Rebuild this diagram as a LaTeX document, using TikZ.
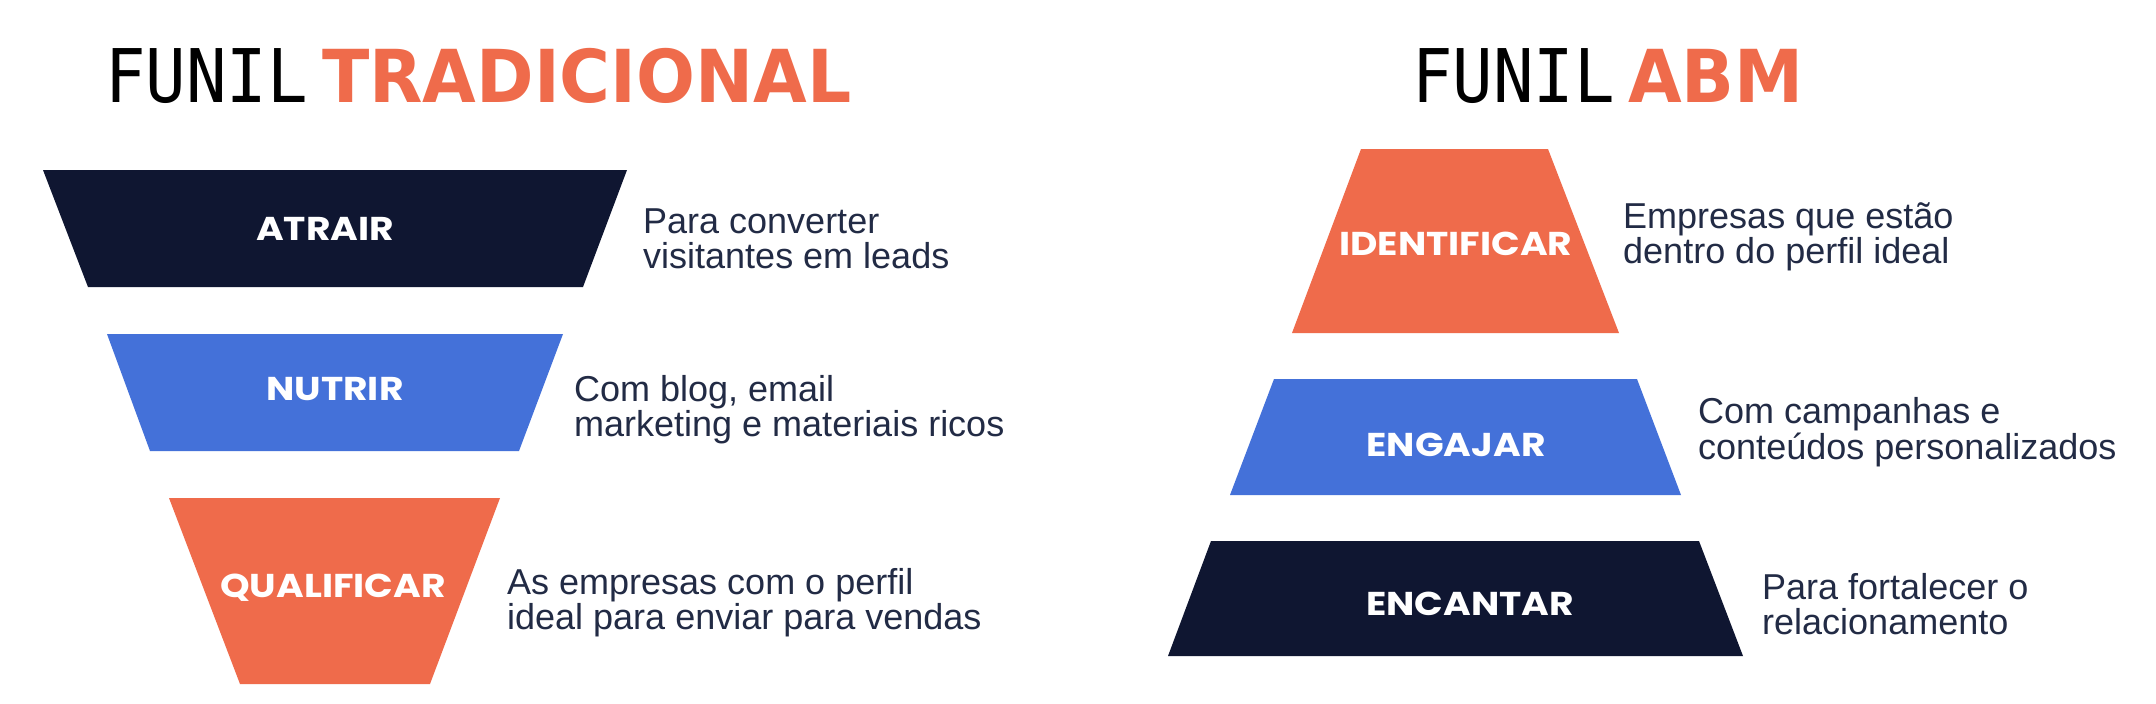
\documentclass[tikz,border=0pt]{standalone}
\usepackage{fontspec}
\newfontfamily\titlefont[FakeStretch=0.91]{DejaVu Sans Mono}
\newfontfamily\boldtitlefont[FakeStretch=0.95]{DejaVu Sans}
\newfontfamily\labelfont[FakeStretch=1.14]{Poppins}
\newfontfamily\descfont{Liberation Sans}
\definecolor{navy}{HTML}{0F1631}
\definecolor{bluex}{HTML}{4471D9}
\definecolor{orangex}{HTML}{EF6B4B}
\definecolor{desc}{HTML}{222B45}
\tikzset{
  title/.style={anchor=base west, inner sep=0pt, font=\titlefont\fontsize{74}{74}\selectfont},
  titlebold/.style={anchor=base west, inner sep=0pt, text=orangex, font=\boldtitlefont\bfseries\fontsize{73}{73}\selectfont},
  stagelabel/.style={anchor=base, inner sep=0pt, text=white, font=\labelfont\bfseries\fontsize{33}{33}\selectfont},
  desctext/.style={anchor=base west, inner sep=0pt, text=desc, font=\descfont\fontsize{36}{32.5}\selectfont},
}
\newcommand{\twolines}[2]{\begin{tabular}[t]{@{}l@{}}#1\\#2\end{tabular}}
\begin{document}
\begin{tikzpicture}[x=1pt,y=-1pt]
\useasboundingbox (0,0) rectangle (2156,704);
\fill[white] (0,0) rectangle (2156,704);
% titles
\node[title] (t1) at (105,102) {FUNIL};
\node[titlebold] (t1b) at (322,102) {TRADICIONAL};
\node[title] (t2) at (1412,102) {FUNIL};
\node[titlebold] (t2b) at (1628,102) {ABM};
% traditional funnel
\fill[navy] (43,170) -- (627,170) -- (583,287) -- (88,287) -- cycle;
\fill[bluex] (107,334) -- (563,334) -- (519,451) -- (150,451) -- cycle;
\fill[orangex] (169,498) -- (500,498) -- (430,684) -- (240,684) -- cycle;
\node[stagelabel] (atrair) at (325,240) {ATRAIR};
\node[stagelabel] (nutrir) at (335,400) {NUTRIR};
\node[stagelabel] (qualificar) at (333,597) {QUALIFICAR};
\node[desctext] (d1) at (643,233) {\twolines{Para converter}{visitantes em leads}};
\node[desctext] (d2) at (574,401) {\twolines{Com blog, email}{marketing e materiais ricos}};
\node[desctext] (d3) at (507,594) {\twolines{As empresas com o perfil}{ideal para enviar para vendas}};
% ABM funnel
\fill[orangex] (1361,149) -- (1548,149) -- (1619,333) -- (1292,333) -- cycle;
\fill[bluex] (1274,379) -- (1637,379) -- (1681,495) -- (1230,495) -- cycle;
\fill[navy] (1211,541) -- (1699,541) -- (1743,656) -- (1168,656) -- cycle;
\node[stagelabel] (identificar) at (1456,255) {IDENTIFICAR};
\node[stagelabel] (engajar) at (1456,456) {ENGAJAR};
\node[stagelabel] (encantar) at (1470,615) {ENCANTAR};
\node[desctext] (d4) at (1623,228) {\twolines{Empresas que estão}{dentro do perfil ideal}};
\node[desctext] (d5) at (1698,423) {\twolines{Com campanhas e}{conteúdos personalizados}};
\node[desctext] (d6) at (1762,599) {\twolines{Para fortalecer o}{relacionamento}};
\end{tikzpicture}
\end{document}
